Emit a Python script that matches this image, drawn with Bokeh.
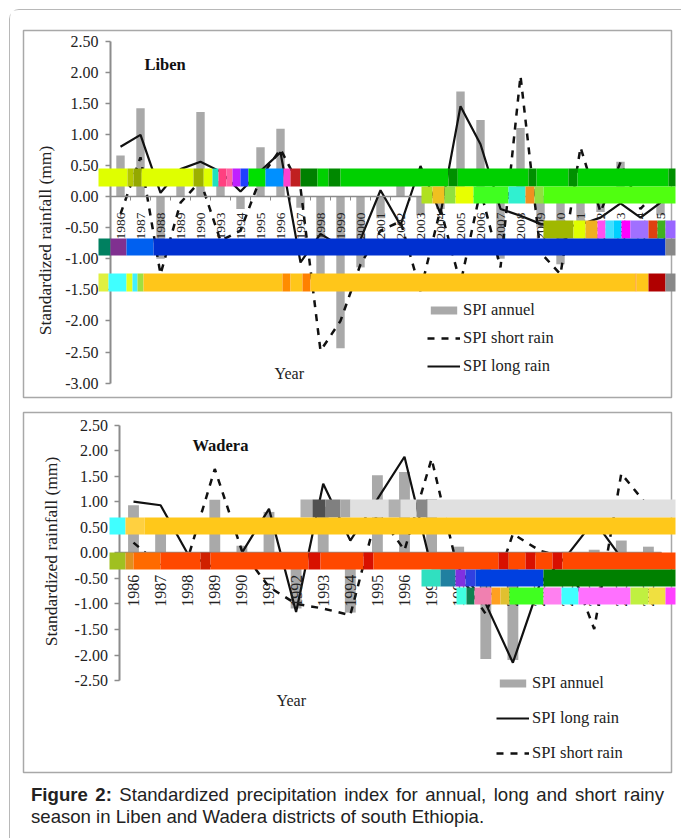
from math import pi
from bokeh.embed import file_html
from bokeh.layouts import column
from bokeh.models import (BoxAnnotation, ColumnDataSource, Div, FixedTicker, Label, Legend,
                          LegendItem, LinearAxis, NumeralTickFormatter, Range1d)
from bokeh.plotting import figure
from bokeh.resources import INLINE

# ------------------------------ data ------------------------------
liben_years = ["1986", "1987", "1988", "1989", "1990", "1993", "1994", "1995", "1996", "1997",
               "1998", "1999", "2000", "2001", "2002", "2003", "2004", "2005", "2006", "2007",
               "2008", "2009", "2010", "2011", "2012", "2013", "2014", "2015"]
liben_annual = [0.66, 1.42, -1.00, 0.30, 1.36, 0.25, -0.20, 0.79, 1.09, -0.18,
                -1.25, -2.44, -1.14, -0.35, 0.30, -0.30, -0.20, 1.69, 1.23, -1.00,
                1.10, -0.50, -1.09, -0.40, -0.25, 0.56, 0.10, -0.30]
liben_long = [0.80, 0.99, 0.06, 0.44, 0.56, 0.40, 0.08, 0.41, 0.71, -1.06,
              -0.60, -0.80, -0.69, 0.10, -0.46, 0.49, -0.28, 1.45, 0.84, -0.20,
              -0.31, -0.44, -0.50, -0.45, -0.34, -0.11, -0.34, -0.10]
liben_short = [-0.28, 0.63, -1.25, -0.10, 0.25, -0.71, -0.55, 0.30, 0.76, 0.14,
               -2.48, -2.00, -1.09, -0.55, -0.40, -1.52, -0.20, -1.40, 0.10, -1.14,
               1.94, -0.90, -1.25, 0.79, -0.25, 0.55, -0.20, 0.14]

wadera_years = ["1986", "1987", "1998", "1989", "1990", "1991", "1992", "1993", "1994", "1995",
                "1996", "1997", "1998", "1999", "2000", "2001", "2002", "2003", "2004", "2005"]
wadera_annual = [0.93, 0.60, -0.05, 1.04, 0.14, 0.80, -1.09, 0.90, -1.17, 1.52,
                 1.58, 1.05, 0.12, -2.08, -2.10, -0.05, 0.02, 0.06, 0.24, 0.12]
wadera_long = [1.00, 0.93, -0.02, -0.30, 0.00, 0.86, -1.16, 1.35, 0.24, 1.05,
               1.88, -0.30, -0.30, -1.00, -2.15, -0.60, -0.05, 0.63, -0.10, -0.10]
wadera_short = [0.20, -0.25, -0.12, 1.64, 0.04, -0.67, -1.00, -1.09, -1.22, 0.80,
                0.05, 1.84, -0.40, -1.20, 0.37, 0.04, -0.10, -1.49, 1.55, 0.90]

y_ticks_liben = [2.5, 2.0, 1.5, 1.0, 0.5, 0.0, -0.5, -1.0, -1.5, -2.0, -2.5, -3.0]
y_ticks_wadera = [2.5, 2.0, 1.5, 1.0, 0.5, 0.0, -0.5, -1.0, -1.5, -2.0, -2.5]

CAPTION_HEAD = "Figure 2:"
CAPTION_BODY = ("Standardized precipitation index for annual, long and short rainy "
                "season in Liben and Wadera districts of south Ethiopia.")

# ------------------------------ style ------------------------------
SERIF = "Liberation Serif"
GREY = "#8c8c8c"
FRAME = "#a8a8a8"
BAR = "#a9a9a9"
INK = "#111111"
DASH = "7 7"
ORIGIN_X = 10
CANVAS_W = 671

# coloured strips lying across the picture: (top, bottom, [(left, right, colour), ...]) on the page
liben_strips = [
    (168, 186, [(98, 127, "#dfff00"), (127, 133, "#b4c800"), (133, 141, "#94a800"), (141, 193, "#dfff00"),
                (193, 203, "#9cb000"), (203, 212, "#dfff00"), (212, 218, "#20e0c0"), (218, 226, "#ff4080"),
                (226, 232, "#ff60a0"), (232, 240, "#c020ff"), (240, 248, "#2040ff"), (248, 265, "#00e000"),
                (265, 283, "#0090ff"), (283, 290, "#ff40d0"), (290, 300, "#c02020"), (300, 317, "#008000"),
                (317, 328, "#00d000"), (328, 340, "#008800"), (340, 448, "#00d000"), (448, 457, "#009000"),
                (457, 528, "#00d000"), (528, 536, "#009000"), (536, 568, "#00d000"), (568, 577, "#009000"),
                (577, 668, "#00d000"), (668, 675, "#009000")]),
    (186, 203, [(421, 432, "#b0e020"), (432, 444, "#f0c020"), (444, 455, "#90e040"), (455, 473, "#e8ff00"),
                (473, 508, "#40ff20"), (508, 525, "#30f0d0"), (525, 534, "#f09020"), (534, 543, "#90e040"),
                (543, 675, "#50ff10")]),
    (220, 238, [(543, 573, "#a0b800"), (573, 585, "#e0ff00"), (585, 597, "#f0b020"), (597, 605, "#ff50f0"),
                (605, 613, "#40e0ff"), (613, 621, "#00d0ff"), (621, 630, "#ff00ff"), (630, 648, "#a070ff"),
                (648, 657, "#e04010"), (657, 665, "#40b020"), (665, 675, "#9966ff")]),
    (238, 255, [(98, 110, "#008060"), (110, 126, "#803090"), (126, 153, "#0060f0"), (153, 665, "#0030d0"),
                (665, 675, "#888888")]),
    (273, 291, [(98, 108, "#e0f040"), (108, 126, "#40ffff"), (126, 132, "#e0ff20"), (132, 137, "#40f0ff"),
                (137, 143, "#a0e040"), (143, 282, "#ffc61a"), (282, 290, "#ff8c00"), (290, 302, "#ffc61a"),
                (302, 310, "#ff8000"), (310, 635, "#ffc61a"), (635, 636, "#ff8000"), (636, 648, "#ffc61a"),
                (648, 665, "#b00000"), (665, 675, "#888888")]),
]
wadera_strips = [
    (499, 517, [(300, 312, "#b0b0b0"), (312, 325, "#505050"), (325, 340, "#808080"), (340, 350, "#a8a8a8"),
                (350, 388, "#e0e0e0"), (388, 400, "#b0b0b0"), (400, 416, "#e0e0e0"), (416, 427, "#888888"),
                (427, 675, "#e0e0e0")]),
    (517, 534, [(109, 125, "#40ffff"), (125, 144, "#ffd040"), (144, 675, "#ffc81a")]),
    (552, 569, [(109, 125, "#a0c020"), (125, 133, "#e09020"), (133, 160, "#ff6a00"), (160, 200, "#ff4800"),
                (200, 210, "#d02000"), (210, 308, "#ff4800"), (308, 320, "#d81000"), (320, 363, "#ff4800"),
                (363, 373, "#d81000"), (373, 498, "#ff4800"), (498, 508, "#d81000"), (508, 525, "#ff4800"),
                (525, 535, "#d81000"), (535, 552, "#ff4800"), (552, 562, "#d81000"), (562, 675, "#ff4800")]),
    (569, 586, [(421, 440, "#30e0c0"), (440, 455, "#2080a0"), (455, 465, "#8030e0"), (465, 475, "#3040e0"),
                (475, 543, "#0040e0"), (543, 675, "#008000")]),
    (587, 604, [(456, 466, "#40ffe0"), (466, 474, "#108050"), (474, 491, "#f080b0"), (491, 500, "#ffa020"),
                (500, 509, "#e0c030"), (509, 543, "#40ff20"), (543, 561, "#ff80f0"), (561, 578, "#40ffff"),
                (578, 630, "#ff70ff"), (630, 648, "#c0f040"), (648, 665, "#f0e040"), (665, 675, "#ff40ff")]),
]


def canvas_box(x0, x1, y0, y1, fill=None, line=None):
    return BoxAnnotation(left=x0, right=x1, top=y0, bottom=y1,
                         left_units="canvas", right_units="canvas",
                         top_units="canvas", bottom_units="canvas",
                         fill_color=fill, fill_alpha=1 if fill else 0,
                         line_color=line, line_alpha=1 if line else 0, line_width=1.5,
                         level="overlay")


def panel(years, annual, long_rain, short_rain, y_ticks, frame_top, frame_bottom, origin_y, height,
          first_x, step_x, zero_y, unit_y, bar_width, strips, order, legend_at, row_gap,
          title, title_at, year_at, ylabel_at, year_font, year_standoff):
    n = len(years)
    src = ColumnDataSource(dict(x=list(range(n)), annual=annual, long=long_rain, short=short_rain))
    # the plotting area fills the whole canvas; the scales are set so that one category is step_x
    # pixels wide and one index unit is unit_y pixels high
    x_start = (ORIGIN_X - first_x) / step_x
    x_end = x_start + CANVAS_W / step_x
    y_end = (zero_y - origin_y) / unit_y
    y_start = y_end - height / unit_y
    p = figure(width=CANVAS_W, height=height, output_backend="svg", toolbar_location=None,
               x_range=Range1d(x_start, x_end), y_range=Range1d(y_start, y_end),
               x_axis_type=None, y_axis_type=None, min_border=0, outline_line_color=None,
               background_fill_color="white", border_fill_color="white")
    p.grid.visible = False

    bars = p.vbar(x="x", top="annual", bottom=0, width=bar_width, source=src,
                  fill_color=BAR, line_color=None)
    long_line = p.line(x="x", y="long", source=src, line_color=INK, line_width=2.2)
    short_line = p.line(x="x", y="short", source=src, line_color=INK, line_width=2.5, line_dash=DASH)

    y_axis = LinearAxis(ticker=FixedTicker(ticks=y_ticks), formatter=NumeralTickFormatter(format="0.00"),
                        fixed_location=-0.5, bounds=(min(y_ticks), max(y_ticks)),
                        axis_line_color=GREY, axis_line_width=2, major_tick_line_color=GREY,
                        major_tick_line_width=1.5, major_tick_in=0, major_tick_out=5, minor_tick_line_color=None,
                        major_label_text_font=SERIF, major_label_text_font_size="16px",
                        major_label_text_color="#222222", major_label_standoff=7)
    p.add_layout(y_axis, "left")

    x_axis = LinearAxis(ticker=FixedTicker(ticks=list(range(n)), minor_ticks=[i - 0.5 for i in range(n + 1)]),
                        fixed_location=0, bounds=(-0.5, n - 0.5),
                        major_label_overrides={i: y for i, y in enumerate(years)},
                        axis_line_color=GREY, axis_line_width=1.5, major_tick_line_color=None,
                        minor_tick_line_color=GREY, minor_tick_in=0, minor_tick_out=4,
                        major_label_orientation=pi / 2, major_label_standoff=year_standoff,
                        major_label_text_font=SERIF, major_label_text_font_size=year_font,
                        major_label_text_color="#222222")
    p.add_layout(x_axis, "below")

    # outer frame of the panel
    p.add_layout(canvas_box(23 - ORIGIN_X, 671 - ORIGIN_X, frame_top - origin_y, frame_bottom - origin_y, line=FRAME))

    # legend
    named = {"annual": ("SPI annuel", bars), "long": ("SPI long rain", long_line),
             "short": ("SPI short rain", short_line)}
    items = [LegendItem(label=named[k][0], renderers=[named[k][1]]) for k in order]
    legend = Legend(items=items, location=(legend_at[0] - ORIGIN_X, origin_y + height - legend_at[1]),
                    orientation="vertical", border_line_color=None,
                    background_fill_alpha=0, glyph_width=33, glyph_height=10, label_height=20,
                    label_standoff=3, spacing=row_gap, padding=0, margin=0,
                    label_text_font=SERIF, label_text_font_size="16.5px", label_text_color="#222222")
    p.add_layout(legend, "center")

    # texts
    p.add_layout(Label(x=title_at[0] - ORIGIN_X, y=title_at[1] - origin_y, x_units="canvas", y_units="canvas",
                       text=title, text_font=SERIF, text_font_style="bold", text_font_size="16.5px",
                       text_color="#111111", text_baseline="middle"))
    p.add_layout(Label(x=year_at[0] - ORIGIN_X, y=year_at[1] - origin_y, x_units="canvas", y_units="canvas",
                       text="Year", text_font=SERIF, text_font_size="16px", text_color="#222222",
                       text_baseline="middle"))
    p.add_layout(Label(x=ylabel_at[0] - ORIGIN_X, y=ylabel_at[1] - origin_y, x_units="canvas", y_units="canvas",
                       text="Standardized rainfall (mm)", angle=pi / 2, text_font=SERIF, text_font_size="17.5px",
                       text_color="#222222", text_align="center", text_baseline="middle"))

    # strips last, so that they lie on top of everything
    for y0, y1, segments in strips:
        for x0, x1, colour in segments:
            p.add_layout(canvas_box(x0 - ORIGIN_X, x1 - ORIGIN_X, y0 - origin_y, y1 - origin_y, fill=colour))
    return p


fig_top = panel(liben_years, liben_annual, liben_long, liben_short, y_ticks_liben, 30, 397, 10, 395,
                120, 20, 196, 62.2, 0.42, liben_strips, ["annual", "short", "long"], (427, 376), 8,
                "Liben", (144, 64), (274, 373), (44, 240), "13.5px", 10)
fig_bottom = panel(wadera_years, wadera_annual, wadera_long, wadera_short, y_ticks_wadera, 412, 772, 405, 375,
                   133, 27.1, 552.3, 51.1, 0.40, wadera_strips, ["annual", "long", "short"], (496, 763), 15,
                   "Wadera", (192, 445), (276, 700), (50, 551), "16px", 16)

caption = Div(text=f"<b>{CAPTION_HEAD}</b> {CAPTION_BODY}", width=633, height=46, margin=(4, 0, 0, 21),
              styles={"font-family": "Liberation Sans", "font-size": "18.6px", "line-height": "22px",
                      "color": "#222222", "text-align": "justify"})

root = column(fig_top, fig_bottom, caption, spacing=0, margin=(9, 0, 0, 9), width=672, height=829,
              styles={"border-left": "1px solid #b8b8b8", "border-top": "1px solid #b8b8b8",
                      "border-top-left-radius": "10px", "background": "white"})

open("out.html", "w").write(file_html(root, INLINE))
